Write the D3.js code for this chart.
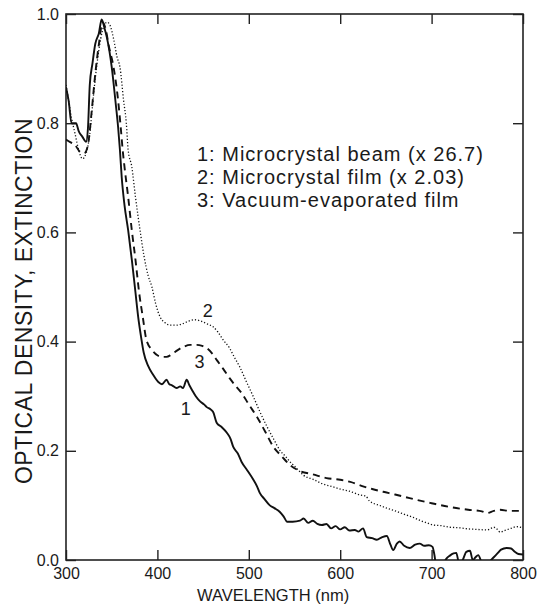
<!DOCTYPE html>
<html>
<head>
<meta charset="utf-8">
<script src="https://cdn.jsdelivr.net/npm/d3@7"></script>
<style>
  body { margin: 0; background: #fff; }
  svg text { font-family: "Liberation Sans", Arial, Helvetica, sans-serif; fill: #1a1a1a; }
</style>
</head>
<body>
<div id="chart"></div>
<script>
// wavelength (nm) / optical density
const beamNm = [300,303,306,311,314,318,322,324,326,329,332,336,339,342,345,350,354,357,359,361,364,368,372,376,379,382,385,390,395,401,405,410,413,416,421,425,428,432,435,438,442,447,451,454,458,461,465,470,476,480,483,488,492,498,505,509,512,517,523,528,534,538,542,548,556,560,565,570,575,580,585,590,595,600,605,610,616,620,625,629,635,640,646,651,655,658,662,665,670,676,682,687,692,697,701,703,706,712,716,720,724,727,730,734,738,742,745,748,751,755,760,764,768,772,776,782,787,791,795,800];
const beamOD = [0.866,0.84,0.80,0.80,0.785,0.775,0.766,0.79,0.87,0.91,0.945,0.965,0.99,0.975,0.955,0.903,0.842,0.793,0.751,0.70,0.65,0.604,0.55,0.49,0.445,0.41,0.38,0.355,0.34,0.326,0.322,0.33,0.322,0.32,0.315,0.318,0.315,0.33,0.32,0.311,0.30,0.29,0.285,0.28,0.276,0.271,0.251,0.244,0.233,0.222,0.207,0.195,0.18,0.165,0.147,0.135,0.123,0.112,0.10,0.095,0.088,0.08,0.07,0.07,0.072,0.076,0.068,0.072,0.066,0.064,0.066,0.058,0.062,0.056,0.06,0.054,0.055,0.052,0.058,0.042,0.04,0.037,0.042,0.044,0.028,0.018,0.03,0.034,0.026,0.022,0.028,0.03,0.026,0.027,0.024,0.01,-0.02,-0.01,0.002,0.008,0.012,0.013,-0.005,0.0,0.015,0.017,0.0,0.005,0.009,-0.005,-0.01,-0.002,0.005,0.012,0.019,0.022,0.021,0.015,0.011,0.01];

const filmNm = [300,303,306,310,314,318,322,326,330,334,338,342,345,348,352,356,359,363,366,368,372,376,381,385,390,394,398,403,408,414,421,428,435,441,447,455,461,466,472,479,484,490,497,505,512,520,527,534,540,545,550,554,560,570,580,592,600,610,622,628,632,636,643,651,660,668,673,680,688,695,702,710,720,731,740,750,761,765,768,772,775,780,787,793,800];
const filmOD = [0.87,0.84,0.81,0.78,0.75,0.735,0.745,0.78,0.85,0.91,0.955,0.98,0.985,0.98,0.955,0.92,0.903,0.842,0.80,0.751,0.72,0.665,0.604,0.56,0.52,0.50,0.47,0.445,0.435,0.43,0.43,0.433,0.438,0.44,0.438,0.432,0.427,0.418,0.403,0.388,0.372,0.354,0.328,0.299,0.272,0.244,0.222,0.201,0.19,0.18,0.172,0.165,0.155,0.148,0.14,0.134,0.13,0.126,0.119,0.117,0.108,0.104,0.10,0.095,0.09,0.085,0.082,0.078,0.072,0.068,0.064,0.063,0.06,0.059,0.057,0.056,0.055,0.058,0.06,0.056,0.051,0.054,0.058,0.061,0.059];

const vacNm = [300,305,310,315,320,324,328,332,336,340,343,347,352,357,360,362,364,368,372,376,380,384,388,394,400,405,410,415,420,428,436,443,449,454,460,465,472,479,485,492,500,509,518,527,536,545,556,570,585,600,611,625,635,647,660,672,684,700,720,740,755,761,768,775,785,800];
const vacOD = [0.77,0.765,0.76,0.748,0.745,0.76,0.82,0.89,0.945,0.985,0.975,0.94,0.903,0.842,0.79,0.751,0.72,0.665,0.604,0.55,0.49,0.445,0.403,0.385,0.375,0.372,0.372,0.376,0.382,0.39,0.394,0.394,0.392,0.388,0.378,0.366,0.35,0.333,0.32,0.306,0.285,0.262,0.235,0.207,0.19,0.174,0.163,0.157,0.15,0.147,0.143,0.135,0.13,0.125,0.12,0.115,0.11,0.104,0.097,0.092,0.089,0.086,0.09,0.092,0.09,0.09];

const xTicks = [300,400,500,600,700,800];
const yTicks = [0,0.2,0.4,0.6,0.8,1.0];
const legendLines = ["1: Microcrystal beam (x 26.7)", "2: Microcrystal film (x 2.03)", "3: Vacuum-evaporated film"];

const W = 540, H = 611;
const margin = {top: 14, right: 17, bottom: 51, left: 66};
const width = W - margin.left - margin.right;
const height = H - margin.top - margin.bottom;

const svg = d3.select("#chart").append("svg")
    .attr("width", W)
    .attr("height", H);

const g = svg.append("g")
    .attr("transform", `translate(${margin.left},${margin.top})`);

const x = d3.scaleLinear().domain([300, 800]).range([0, width]);
const y = d3.scaleLinear().domain([0, 1.0]).range([height, 0]);

g.append("clipPath").attr("id", "plot-clip")
    .append("rect").attr("width", width).attr("height", height);

// inward ticks on all four sides
const tickLen = 10;
g.append("g")
    .attr("transform", `translate(0,${height})`)
    .call(d3.axisBottom(x).tickValues(xTicks).tickSizeInner(-tickLen).tickSizeOuter(0).tickPadding(8).tickFormat(d3.format("d")))
    .call(a => a.select(".domain").remove())
    .call(a => a.selectAll("text").style("font-size", "16px"));

g.append("g")
    .call(d3.axisTop(x).tickValues(xTicks).tickSizeInner(-tickLen).tickSizeOuter(0).tickFormat(""))
    .call(a => a.select(".domain").remove());

g.append("g")
    .call(d3.axisLeft(y).tickValues(yTicks).tickSizeInner(-tickLen).tickSizeOuter(0).tickPadding(7).tickFormat(d3.format(".1f")))
    .call(a => a.select(".domain").remove())
    .call(a => a.selectAll("text").style("font-size", "16px"));

g.append("g")
    .attr("transform", `translate(${width},0)`)
    .call(d3.axisRight(y).tickValues(yTicks).tickSizeInner(-tickLen).tickSizeOuter(0).tickFormat(""))
    .call(a => a.select(".domain").remove());

g.selectAll(".tick line").attr("stroke", "#222").attr("stroke-width", 1.4);

g.append("rect")
    .attr("width", width)
    .attr("height", height)
    .attr("fill", "none")
    .attr("stroke", "#222")
    .attr("stroke-width", 1.6);

const line = d3.line()
    .x(d => x(d[0]))
    .y(d => y(d[1]))
    .curve(d3.curveMonotoneX);

const series = [
    {nm: beamNm, od: beamOD, width: 1.9, dash: null},
    {nm: filmNm, od: filmOD, width: 1.3, dash: "1.2,2"},
    {nm: vacNm, od: vacOD, width: 1.9, dash: "7,5"}
];

const plot = g.append("g").attr("clip-path", "url(#plot-clip)");
series.forEach(s => {
    plot.append("path")
        .datum(d3.zip(s.nm, s.od))
        .attr("fill", "none")
        .attr("stroke", "#111")
        .attr("stroke-width", s.width)
        .attr("stroke-dasharray", s.dash)
        .attr("d", line);
});

// curve numbers
const curveTags = [
    {label: "2", nm: 455, od: 0.445},
    {label: "3", nm: 446, od: 0.352},
    {label: "1", nm: 431, od: 0.265}
];
g.selectAll(".curve-tag")
    .data(curveTags)
    .enter()
    .append("text")
    .attr("class", "curve-tag")
    .attr("x", d => x(d.nm))
    .attr("y", d => y(d.od))
    .attr("text-anchor", "middle")
    .style("font-size", "18px")
    .text(d => d.label);

svg.selectAll(".legend-line")
    .data(legendLines)
    .enter()
    .append("text")
    .attr("class", "legend-line")
    .attr("x", 197)
    .attr("y", (d, i) => 161 + i * 23)
    .style("font-size", "20px")
    .style("letter-spacing", "1px")
    .text(d => d);

svg.append("text")
    .attr("transform", `translate(32,${margin.top + height / 2 + 14}) rotate(-90)`)
    .attr("text-anchor", "middle")
    .style("font-size", "23px")
    .style("letter-spacing", "0.5px")
    .text("OPTICAL DENSITY, EXTINCTION");

svg.append("text")
    .attr("x", 197)
    .attr("y", 601)
    .style("font-size", "16.5px")
    .text("WAVELENGTH  (nm)");
</script>
</body>
</html>
